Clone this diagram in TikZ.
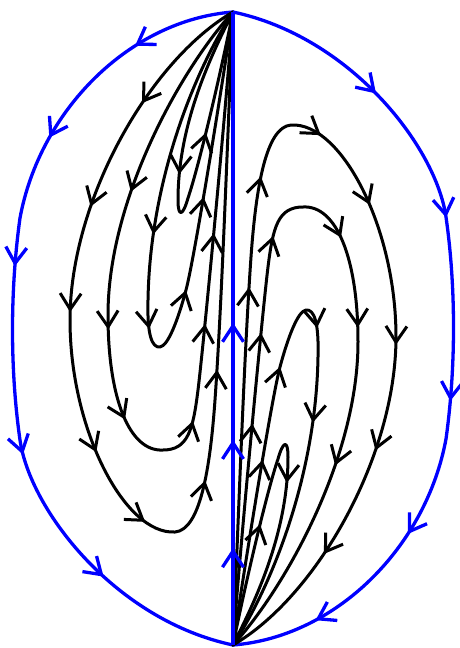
\documentclass[tikz,border=0pt]{standalone}
\usetikzlibrary{arrows.meta,decorations.markings}

\tikzset{
  >={Straight Barb[length=16pt,width=21pt]},
  orbit/.style={line width=3pt,line cap=round,line join=round},
  bound/.style={blue,line width=3.3pt,line join=round},
  arrowat/.style={postaction={decorate,decoration={markings,
      mark=at position #1 with {\arrow{>}}}}}
}

\begin{document}
\begin{tikzpicture}[x=1pt,y=-1pt]
\useasboundingbox (0,0) rectangle (460,648);

\coordinate (N) at (233,12);
\coordinate (S) at (233,645);

% left boundary, N to S
\draw[bound,arrowat=0.123,arrowat=0.272,arrowat=0.43,arrowat=0.652,arrowat=0.826]
  (233,12) .. controls (130,20) and (40,110) .. (20,218)
  .. controls (10,290) and (10,370) .. (20,440)
  .. controls (30,510) and (115,620) .. (233,645);

% left loops, out of N and back into N
\draw[orbit,arrowat=0.113,arrowat=0.214,arrowat=0.308,arrowat=0.433,arrowat=0.508,arrowat=0.591,arrowat=0.688]
  (233,12) .. controls (150,60) and (70,200) .. (70,320)
  .. controls (70,430) and (125,535) .. (175,532)
  .. controls (200,530) and (210,470) .. (215,400)
  .. controls (222,300) and (227,150) .. (233,12);
\draw[orbit,arrowat=0.219,arrowat=0.367,arrowat=0.464,arrowat=0.567,arrowat=0.67,arrowat=0.766]
  (233,12) .. controls (180,70) and (108,200) .. (108,315)
  .. controls (108,400) and (130,452) .. (163,450)
  .. controls (188,450) and (193,430) .. (198,390)
  .. controls (203,350) and (225,120) .. (233,12);
\draw[orbit,arrowat=0.339,arrowat=0.474,arrowat=0.598,arrowat=0.733]
  (233,12) .. controls (195,70) and (150,180) .. (148,300)
  .. controls (147,335) and (152,348) .. (160,347)
  .. controls (168,346) and (178,320) .. (186,290)
  .. controls (194,260) and (220,100) .. (233,12);
\draw[orbit,arrowat=0.41,arrowat=0.705]
  (233,12) .. controls (215,48) and (178,120) .. (178,200)
  .. controls (178,218) and (183,216) .. (188,198)
  .. controls (196,175) and (215,100) .. (233,12);

% right half: the left half turned half way round, run the other way
\begin{scope}[rotate around={180:(233,328.5)}]
\draw[bound,arrowat=0.196,arrowat=0.366,arrowat=0.582,arrowat=0.748,arrowat=0.898]
  (233,645) .. controls (115,620) and (30,510) .. (20,440)
  .. controls (10,370) and (10,290) .. (20,218)
  .. controls (40,110) and (130,20) .. (233,12);

\draw[orbit,arrowat=0.312,arrowat=0.409,arrowat=0.492,arrowat=0.567,arrowat=0.692,arrowat=0.786,arrowat=0.887]
  (233,12) .. controls (227,150) and (222,300) .. (215,400)
  .. controls (210,470) and (200,530) .. (175,532)
  .. controls (125,535) and (70,430) .. (70,320)
  .. controls (70,200) and (150,60) .. (233,12);
\draw[orbit,arrowat=0.234,arrowat=0.33,arrowat=0.433,arrowat=0.536,arrowat=0.633,arrowat=0.781]
  (233,12) .. controls (225,120) and (203,350) .. (198,390)
  .. controls (193,430) and (188,450) .. (163,450)
  .. controls (130,452) and (108,400) .. (108,315)
  .. controls (108,200) and (180,70) .. (233,12);
\draw[orbit,arrowat=0.267,arrowat=0.402,arrowat=0.526,arrowat=0.661]
  (233,12) .. controls (220,100) and (194,260) .. (186,290)
  .. controls (178,320) and (168,346) .. (160,347)
  .. controls (152,348) and (147,335) .. (148,300)
  .. controls (150,180) and (195,70) .. (233,12);
\draw[orbit,arrowat=0.295,arrowat=0.59]
  (233,12) .. controls (215,100) and (196,175) .. (188,198)
  .. controls (183,216) and (178,218) .. (178,200)
  .. controls (178,120) and (215,48) .. (233,12);
\end{scope}

% the invariant line, S up to N
\draw[bound,arrowat=0.153,arrowat=0.324,arrowat=0.509] (S) -- (N);

\end{tikzpicture}
\end{document}
